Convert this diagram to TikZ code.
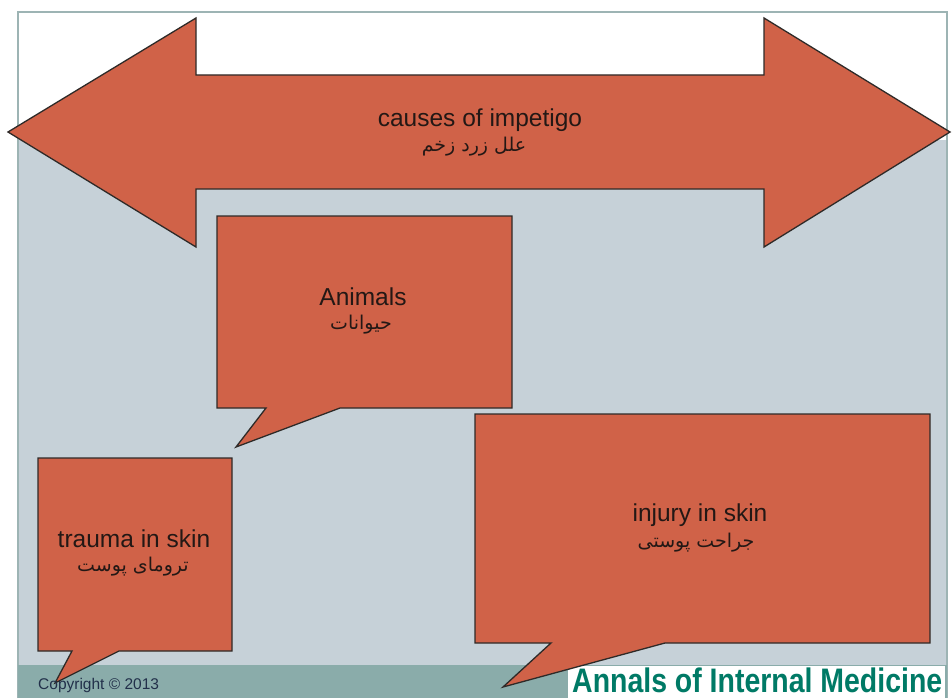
\documentclass[tikz,border=0pt]{standalone}
\usepackage{fontspec}
\setmainfont{Liberation Sans}
\newfontfamily\arabicfont[Script=Arabic]{DejaVu Sans}
\TeXXeTstate=1
\definecolor{calloutfill}{HTML}{D06248}
\definecolor{edgeline}{HTML}{2E2A28}
\definecolor{panelgray}{HTML}{C6D1D8}
\definecolor{framecol}{HTML}{9DB4B4}
\definecolor{stripcol}{HTML}{8AACAA}
\definecolor{annalsteal}{HTML}{007A66}
\definecolor{inkcol}{HTML}{231815}
\definecolor{copycol}{HTML}{22304A}
\tikzset{
  shapefill/.style={fill=calloutfill, draw=edgeline, line width=1.3pt, line join=miter},
  entext/.style={inner sep=0pt, anchor=base, text=inkcol, font=\fontsize{24.5}{28}\selectfont},
  fatext/.style={inner sep=0pt, anchor=base, text=inkcol, font=\arabicfont\fontsize{19}{22}\selectfont},
}
\begin{document}
\begin{tikzpicture}[x=1pt, y=-1pt]
  \useasboundingbox (0,0) rectangle (952,698);
  % panel background
  \fill[white] (0,0) rectangle (952,698);
  \fill[panelgray] (18,140) rectangle (947,698);
  \draw[framecol, line width=1.5pt] (18,698) -- (18,12) -- (947,12) -- (947,698);
  % footer strip
  \fill[stripcol] (18,665) rectangle (947,698);
  \fill[white] (568,666) rectangle (945,698);

  % double-headed arrow
  \draw[shapefill] (8,132) -- (196,18) -- (196,75) -- (764,75) -- (764,18)
    -- (950,132) -- (764,247) -- (764,189) -- (196,189) -- (196,247) -- cycle;
  \node[entext] (causesEn) at (480,127) {causes of impetigo};
  \node[fatext] (causesFa) at (474,151) {\beginR علل زرد زخم\endR};

  % callouts
  \draw[shapefill] (217,216) -- (512,216) -- (512,408) -- (340,408) -- (236,447)
    -- (266,408) -- (217,408) -- cycle;
  \node[entext] (animalsEn) at (363,305) {Animals};
  \node[fatext] (animalsFa) at (361,329) {\beginR حیوانات\endR};

  \draw[shapefill] (38,458) -- (232,458) -- (232,651) -- (119,651) -- (55,683)
    -- (72,651) -- (38,651) -- cycle;
  \node[entext] (traumaEn) at (134,547) {trauma in skin};
  \node[fatext] (traumaFa) at (133,571) {\beginR ترومای پوست\endR};

  \draw[shapefill] (475,414) -- (930,414) -- (930,643) -- (665,643) -- (503,687)
    -- (551,643) -- (475,643) -- cycle;
  \node[entext] (injuryEn) at (700,521) {injury in skin};
  \node[fatext] (injuryFa) at (696,547) {\beginR جراحت پوستی\endR};

  % footer texts
  \node[inner sep=0pt, anchor=base west, text=copycol,
        font=\fontsize{15.5}{17}\selectfont] (copyright) at (38,689)
        {Copyright \textcopyright\ 2013};
  \node[inner sep=0pt, anchor=base west, text=annalsteal,
        font=\bfseries\fontsize{34}{36}\selectfont] (annals) at (572,692)
        {\scalebox{0.837}[1]{Annals of Internal Medicine}};
\end{tikzpicture}
\end{document}
